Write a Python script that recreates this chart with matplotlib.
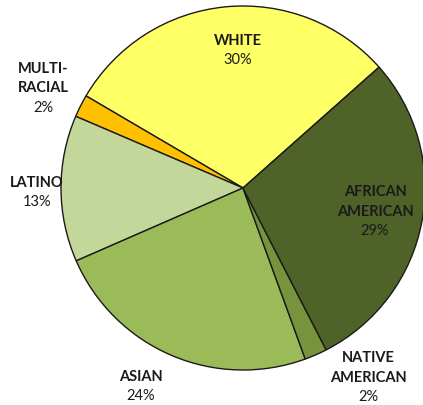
import matplotlib
matplotlib.use("Agg")
import matplotlib.pyplot as plt

# data
groups = ["WHITE", "MULTI-\nRACIAL", "LATINO", "ASIAN", "NATIVE\nAMERICAN", "AFRICAN\nAMERICAN"]
shares = [30, 2, 13, 24, 2, 29]
colors = ["#FFFF66", "#FFC000", "#C4D79B", "#9BBB59", "#77933C", "#4F6228"]

# top line position of each label (pixel coords from top-left)
label_pos = [(238, 41), (43, 69), (37, 183), (141, 377), (368, 358), (375, 192)]
line_step = 19.5

W, H = 423, 405
fig = plt.figure(figsize=(W / 100, H / 100), dpi=100)
ax = fig.add_axes([0, 0, 1, 1])
ax.axis("off")

ax.pie(shares, colors=colors, startangle=41.6, counterclock=True,
       center=(243, H - 188), radius=182,
       wedgeprops=dict(edgecolor="#1a1a1a", linewidth=1.0))
ax.set_xlim(0, W)
ax.set_ylim(0, H)
ax.set_aspect("equal")

for name, val, (x, y) in zip(groups, shares, label_pos):
    lines = name.split("\n")
    for i, ln in enumerate(lines):
        ax.text(x, H - (y + i * line_step), ln, ha="center", va="center",
                fontsize=10.5, fontweight="bold", family="Lato", color="#1a1a1a")
    ax.text(x, H - (y + len(lines) * line_step), f"{val}%", ha="center",
            va="center", fontsize=10.5, family="Lato", color="#1a1a1a")

plt.savefig("out.png", dpi=100)
